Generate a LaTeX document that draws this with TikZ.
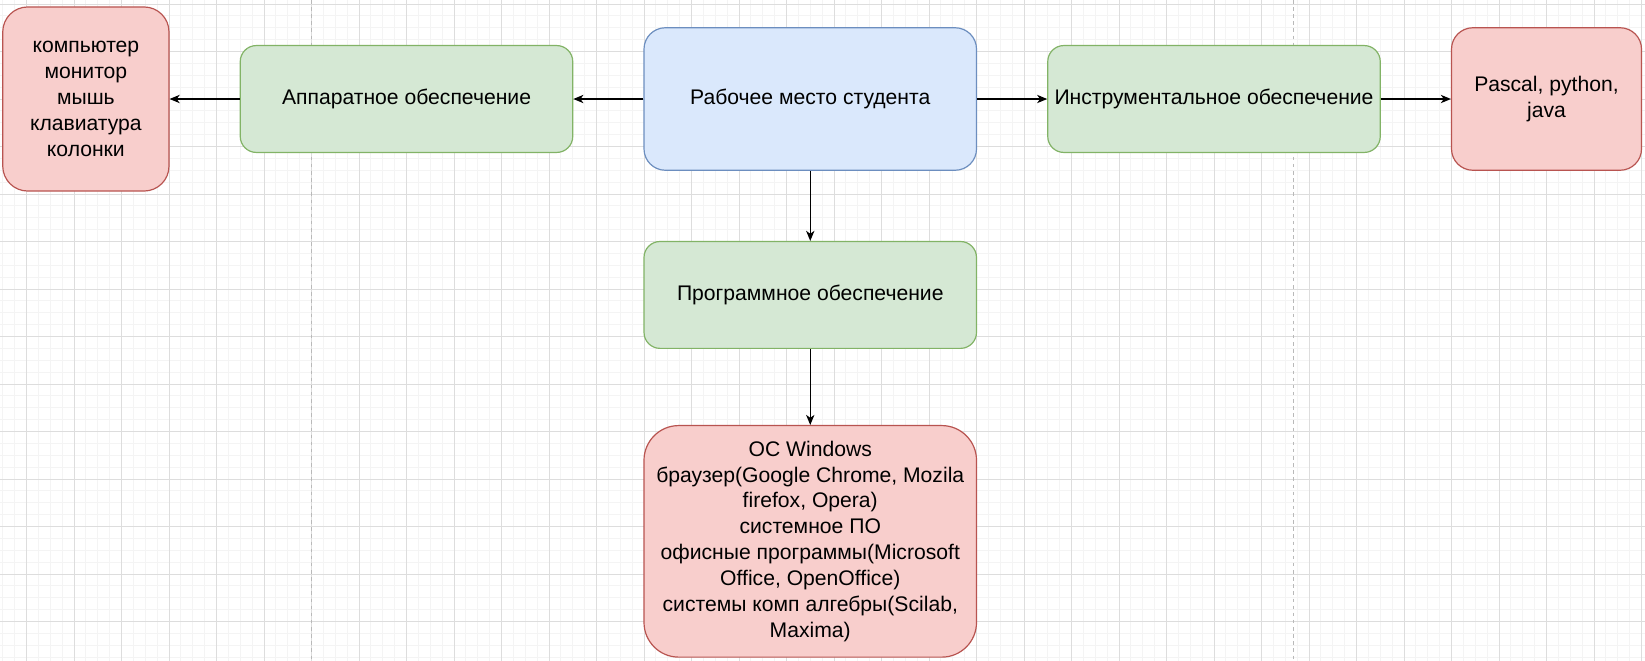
\documentclass[tikz,border=0pt]{standalone}
\usepackage{fontspec}
\setmainfont{Liberation Sans}
\usetikzlibrary{arrows.meta}
\definecolor{gfill}{HTML}{D5E8D4}\definecolor{gdraw}{HTML}{82B366}
\definecolor{bfill}{HTML}{DAE8FC}\definecolor{bdraw}{HTML}{6C8EBF}
\definecolor{rfill}{HTML}{F8CECC}\definecolor{rdraw}{HTML}{B85450}
\definecolor{gridminor}{HTML}{F4F4F4}\definecolor{gridmajor}{HTML}{DDDDDD}
\tikzset{
  box/.style={rectangle, inner sep=0pt, line width=1pt, align=center,
    font=\fontsize{17.8}{21.8}\selectfont, text=black},
  greenbox/.style={box, fill=gfill, draw=gdraw, minimum width=280pt, minimum height=90pt, rounded corners=13.5pt},
  bluebox/.style={box, fill=bfill, draw=bdraw},
  redbox/.style={box, fill=rfill, draw=rdraw},
  conn/.style={line width=1pt, draw=black, -{Stealth[length=8.5pt, width=7pt, inset=2.5pt]}},
}
\begin{document}
\begin{tikzpicture}[x=1pt, y=-1pt]
\useasboundingbox (-22.32,-3.37) rectangle (1362.95,553.26);
\fill[white] (-22.32,-3.37) rectangle (1362.95,553.26);
% grid
\foreach \i in {-20,-10,...,1360}
  \draw[gridminor, line width=0.84pt] (\i,-3.37) -- (\i,553.26);
\foreach \j in {0,10,...,550}
  \draw[gridminor, line width=0.84pt] (-22.32,\j) -- (1362.95,\j);
\foreach \i in {0,40,...,1360}
  \draw[gridmajor, line width=0.84pt] (\i,-3.37) -- (\i,553.26);
\foreach \j in {0,40,...,550}
  \draw[gridmajor, line width=0.84pt] (-22.32,\j) -- (1362.95,\j);
% page breaks
\draw[gray!55, line width=0.84pt, dash pattern=on 3pt off 3pt] (240,-3.37) -- (240,553.26);
\draw[gray!55, line width=0.84pt, dash pattern=on 3pt off 3pt] (1067,-3.37) -- (1067,553.26);
% nodes
\node[redbox, minimum width=140pt, minimum height=155pt, rounded corners=21pt] (hwlist) at (50,80)
  {компьютер\\монитор\\мышь\\клавиатура\\колонки};
\node[greenbox] (hw) at (320,80) {Аппаратное обеспечение};
\node[bluebox, minimum width=280pt, minimum height=120pt, rounded corners=18pt] (main) at (660,80)
  {Рабочее место студента};
\node[greenbox] (tool) at (1000,80) {Инструментальное обеспечение};
\node[redbox, minimum width=160pt, minimum height=120pt, rounded corners=18pt] (langs) at (1280,80)
  {Pascal, python,\\java};
\node[greenbox] (prog) at (660,245) {Программное обеспечение};
\node[redbox, minimum width=280pt, minimum height=195pt, rounded corners=29.25pt] (soft) at (660,452.5)
  {ОС Windows\\браузер(Google Chrome, Mozila\\firefox, Opera)\\системное ПО\\офисные программы(Microsoft\\Office, OpenOffice)\\системы комп алгебры(Scilab,\\Maxima)};
% connectors
\draw[conn] (main.west) -- (hw.east);
\draw[conn] (hw.west) -- (hwlist.east);
\draw[conn] (main.east) -- (tool.west);
\draw[conn] (tool.east) -- (langs.west);
\draw[conn] (main.south) -- (prog.north);
\draw[conn] (prog.south) -- (soft.north);
\end{tikzpicture}
\end{document}
